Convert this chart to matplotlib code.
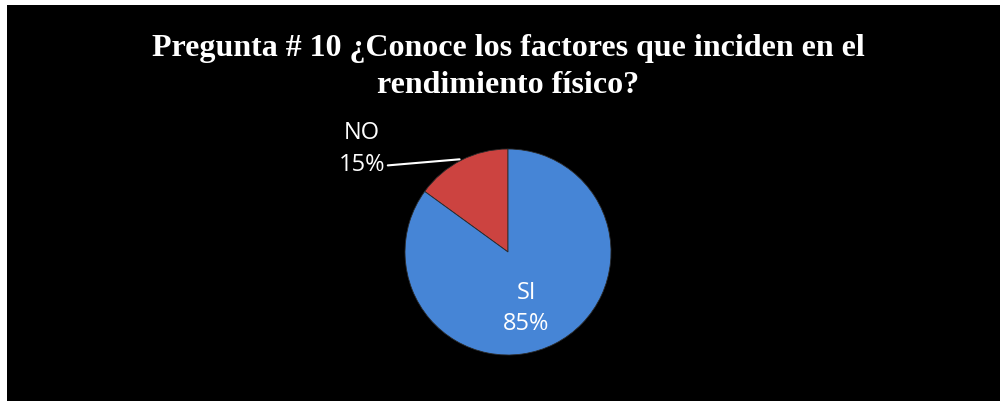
import matplotlib.pyplot as plt
from matplotlib.patches import Rectangle

# data
labels = ['NO', 'SI']
values = [15, 85]
colors = ['#CC4340', '#4685D6']
title = 'Pregunta # 10 ¿Conoce los factores que inciden en el\nrendimiento físico?'

W, H = 1000, 402
fig = plt.figure(figsize=(W / 100, H / 100), dpi=100)
fig.patch.set_facecolor('black')
# thin white margin on top and left
fig.patches.append(Rectangle((0, 1 - 6 / H), 1, 6 / H, transform=fig.transFigure,
                             facecolor='white', edgecolor='none', zorder=-5))
fig.patches.append(Rectangle((0, 0), 7 / W, 1, transform=fig.transFigure,
                             facecolor='white', edgecolor='none', zorder=-5))

fig.text(508 / W, 1 - 67 / H, title, ha='center', va='center', color='white',
         fontsize=23, fontweight='bold', family='Liberation Serif', linespacing=1.4)

# pie axes: center (508, 253) px, radius 103 px
r = 103
ax = fig.add_axes([(508 - r) / W, (H - 253 - r) / H, 2 * r / W, 2 * r / H])
ax.set_zorder(2)
ax.set_facecolor('none')
wedges, _ = ax.pie(values, colors=colors, startangle=90, counterclock=True,
                   wedgeprops=dict(edgecolor='#2a2a2a', linewidth=0.6))
ax.set_xlim(-1, 1)
ax.set_ylim(-1, 1)
ax.set_aspect('equal')
ax.axis('off')

txt = dict(color='white', fontsize=17, family='Open Sans', ha='center', va='center',
           linespacing=1.4)
ax.annotate(f'{labels[0]}\n{values[0]}%', xy=(-0.47, 0.9), xytext=(-1.42, 1.01),
            annotation_clip=False,
            arrowprops=dict(arrowstyle='-', color='white', lw=1.5,
                            shrinkA=0, shrinkB=0, relpos=(1.0, 0.18)), **txt)
ax.text(0.18, -0.54, f'{labels[1]}\n{values[1]}%', **txt)

fig.savefig('out.png', dpi=100, facecolor=fig.get_facecolor())
